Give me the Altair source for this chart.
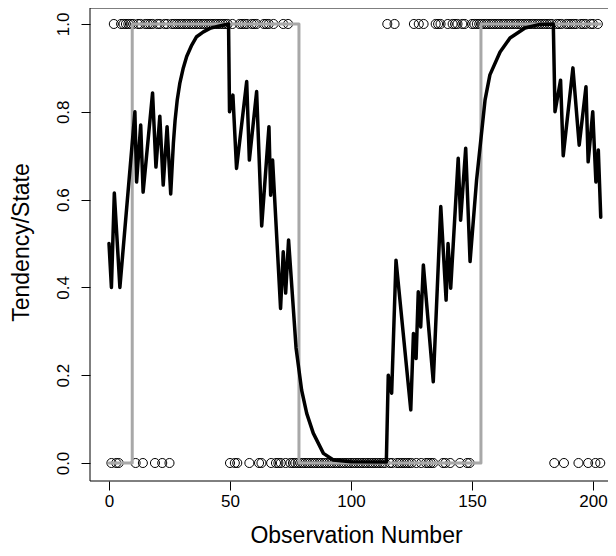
import altair as alt
import pandas as pd

# Observations per time step t = 0..203 ('1' = top circle, '0' = bottom circle, '-' = none)
obs_code = (
    "-010011111" "1011011110" "1101101111" "1111111111" "1111111111"
    "0100111101" "1100111010" "0010100000" "0000000000" "0000000000"
    "0000000000" "0000010010" "0000001010" "1000011100" "1011101100"
    "1111111111" "1111111111" "1111111111" "1111011101" "1111011101"
    "1010"
)

# Tendency (black line) vertices
tend_x = [0, 1, 2.2, 4.5, 10.7, 11.4, 13.1, 14.1, 18, 19.4,
          21, 22.4, 24, 25.5, 26.6, 27.3, 28.2, 29.3, 30.7, 32.1,
          34.2, 36.2, 39, 41.7, 45.2, 49.4, 49.8, 51.2, 52.7, 56.9,
          58, 61, 63.1, 66.1, 66.8, 67.6, 70.9, 72, 73, 74.2,
          77.3, 79.6, 81.7, 84.4, 88.6, 92.7, 100, 114.6, 115.4, 116.8,
          118.6, 124.7, 125.8, 126.9, 127.8, 128.8, 129.9, 134, 137.1, 139.3,
          140.1, 141.2, 144.3, 145.3, 147.4, 149.2, 151.9, 155.4, 157.4, 161.6,
          165.7, 171.9, 178, 183.6, 184.3, 186.6, 187.7, 191.7, 194.3, 197.1,
          198, 199.9, 201.2, 202.2, 203.2]
tend_y = [0.50, 0.40, 0.615, 0.40, 0.80, 0.64, 0.77, 0.617, 0.843, 0.674,
          0.79, 0.633, 0.766, 0.613, 0.728, 0.78, 0.827, 0.866, 0.90, 0.926,
          0.952, 0.971, 0.982, 0.99, 0.995, 1.0, 0.80, 0.838, 0.671, 0.869,
          0.69, 0.846, 0.54, 0.766, 0.61, 0.69, 0.352, 0.481, 0.387, 0.508,
          0.262, 0.166, 0.113, 0.068, 0.022, 0.007, 0.003, 0.002, 0.20, 0.159,
          0.462, 0.121, 0.295, 0.238, 0.39, 0.31, 0.451, 0.185, 0.584, 0.371,
          0.50, 0.398, 0.694, 0.553, 0.717, 0.459, 0.645, 0.827, 0.884, 0.936,
          0.968, 0.991, 0.999, 1.0, 0.80, 0.872, 0.70, 0.90, 0.724, 0.857,
          0.686, 0.80, 0.64, 0.713, 0.56]

# State (grey step line) vertices
state_x = [0, 9.6, 9.6, 78.5, 78.5, 153.7, 153.7, 203]
state_y = [0, 0, 1, 1, 0, 0, 1, 1]

x_ticks = [0, 50, 100, 150, 200]
y_ticks = [0.0, 0.2, 0.4, 0.6, 0.8, 1.0]

W, H = 518, 473
FONT = "Liberation Sans"

obs_df = pd.DataFrame({
    "x": [i for i, c in enumerate(obs_code) if c != "-"],
    "y": [int(c) for c in obs_code if c != "-"],
})
tend_df = pd.DataFrame({"x": tend_x, "y": tend_y, "i": list(range(len(tend_x)))})
state_df = pd.DataFrame({"x": state_x, "y": state_y, "i": list(range(len(state_x)))})

xscale = alt.Scale(domain=[-7.85, 206.2], nice=False, zero=False)
yscale = alt.Scale(domain=[-0.041, 1.0364], nice=False, zero=False)

xaxis = alt.Axis(values=x_ticks, format="d", title="Observation Number",
                 titleFont=FONT, titleFontSize=23, titleFontWeight="normal",
                 titleColor="black", titleX=266, titleY=61,
                 titleBaseline="alphabetic", titleAlign="center",
                 labelFont=FONT, labelFontSize=17, labelColor="black",
                 labelPadding=3, labelFlush=False, labelOverlap=False,
                 tickSize=9, tickColor="black", tickWidth=1,
                 domain=False, grid=False)
yaxis = alt.Axis(values=y_ticks, format=".1f", title="Tendency/State",
                 titleFont=FONT, titleFontSize=23, titleFontWeight="normal",
                 titleColor="black", titleAngle=270, titleX=-62, titleY=234,
                 titleBaseline="alphabetic", titleAlign="center",
                 labelFont=FONT, labelFontSize=17, labelColor="black",
                 labelAngle=270, labelAlign="center", labelBaseline="alphabetic",
                 labelPadding=12.5, labelFlush=False, labelOverlap=False,
                 tickSize=9, tickColor="black", tickWidth=1,
                 domain=False, grid=False)


def xe():
    return alt.X("x:Q", scale=xscale, axis=xaxis)


def ye():
    return alt.Y("y:Q", scale=yscale, axis=yaxis)


points = alt.Chart(obs_df).mark_point(
    shape="circle", filled=False, size=82, strokeWidth=1,
    color="black", opacity=1
).encode(x=xe(), y=ye())

state = alt.Chart(state_df).mark_line(
    color="#a8a8a8", strokeWidth=3, strokeJoin="round", strokeCap="round"
).encode(x=xe(), y=ye(), order="i:Q")

tend = alt.Chart(tend_df).mark_line(
    color="black", strokeWidth=3.5, strokeJoin="round", strokeCap="round"
).encode(x=xe(), y=ye(), order="i:Q")

one = pd.DataFrame({"a": [0]})
frame_left = alt.Chart(one).mark_rule(color="black", strokeWidth=1).encode(
    x=alt.value(0), y=alt.value(0), y2=alt.value(H))
frame_top = alt.Chart(one).mark_rule(color="black", strokeWidth=1).encode(
    x=alt.value(0), x2=alt.value(W + 10), y=alt.value(0))
frame_bottom = alt.Chart(one).mark_rule(color="black", strokeWidth=1).encode(
    x=alt.value(0), x2=alt.value(W + 10), y=alt.value(H))

chart = alt.layer(points, state, tend, frame_left, frame_top, frame_bottom).properties(
    width=W, height=H,
    autosize=alt.AutoSizeParams(type="none"),
    padding={"left": 82, "top": 0, "right": 0, "bottom": 67},
    background="white",
).configure_view(stroke=None)

chart.save("out.html", embed_options={"renderer": "svg", "actions": False})
